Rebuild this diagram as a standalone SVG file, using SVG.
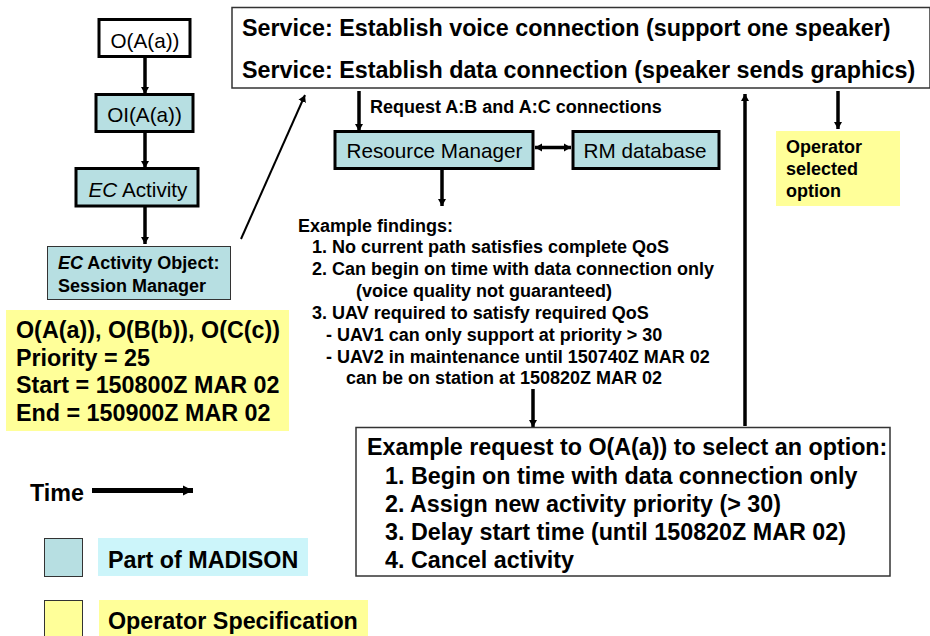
<svg xmlns="http://www.w3.org/2000/svg" width="930" height="636" viewBox="0 0 930 636">
<style>
text{font-family:"Liberation Sans",Arial,sans-serif;fill:#000}
.teal{fill:#b7dfe2}
.yel{fill:#ffff99}
.thick{stroke:#000;stroke-width:3}
.thin{stroke:#333;stroke-width:1}
.c{stroke:#000;stroke-width:3.500;fill:none}
.s{font-size:18px;font-weight:bold}
.m{font-size:23.300px;font-weight:bold}
.n{font-size:20.700px}
</style>
<defs>
<marker id="a" markerUnits="userSpaceOnUse" markerWidth="8" markerHeight="10" refX="7" refY="5" orient="auto-start-reverse"><path d="M0 1L7 5L0 9z" fill="#000"/></marker>
<marker id="t" markerUnits="userSpaceOnUse" markerWidth="11" markerHeight="12" refX="10" refY="6" orient="auto"><path d="M0 1L10 6L0 11z" fill="#000"/></marker>
</defs>
<rect width="930" height="636" fill="#fff"/>
<g id="connectors">
<path class="c" d="M145 57V94" marker-end="url(#a)"/>
<path class="c" d="M145 132V168" marker-end="url(#a)"/>
<path class="c" d="M145 207V244" marker-end="url(#a)"/>
<path d="M241 239L305 95" stroke="#000" stroke-width="2" fill="none" marker-end="url(#a)"/>
<path class="c" d="M359 91V131" marker-end="url(#a)"/>
<path class="c" d="M535 147.500H571" marker-start="url(#a)" marker-end="url(#a)"/>
<path class="c" d="M442 169V206" marker-end="url(#a)"/>
<path class="c" d="M533 389V427" marker-end="url(#a)"/>
<path class="c" d="M745 426V94" marker-end="url(#a)"/>
<path class="c" d="M838 91V129" marker-end="url(#a)"/>
<path d="M92 490.500H193" stroke="#000" stroke-width="5" fill="none" marker-end="url(#t)"/>
</g>
<g id="service">
<rect x="232" y="7.500" width="698" height="80.500" fill="#fff" stroke="#333" stroke-width="1.500"/>
<text class="m" x="242" y="36">Service: Establish voice connection (support one speaker)</text>
<text class="m" x="242" y="78">Service: Establish data connection (speaker sends graphics)</text>
</g>
<g id="oaa"><rect x="99" y="19.500" width="91" height="37" fill="#fff" class="thick"/><text class="n" x="145" y="48" text-anchor="middle">O(A(a))</text></g>
<g id="oiaa"><rect class="teal thick" x="96" y="94.500" width="97" height="37"/><text class="n" x="144.500" y="122" text-anchor="middle">OI(A(a))</text></g>
<g id="ecactivity"><rect class="teal thick" x="76" y="168.500" width="122" height="37.500"/><text class="n" x="138" y="197" text-anchor="middle"><tspan font-style="italic">EC</tspan> Activity</text></g>
<g id="ecobject"><rect class="teal thin" x="47.500" y="246.500" width="183" height="53"/><text class="s" x="58" y="269"><tspan font-style="italic">EC</tspan> Activity Object:</text><text class="s" x="58" y="292">Session Manager</text></g>
<g id="opspec"><rect class="yel" x="6" y="310" width="283" height="121"/>
<text class="m" x="16" y="338">O(A(a)), O(B(b)), O(C(c))</text>
<text class="m" x="16" y="366">Priority = 25</text>
<text class="m" x="16" y="393">Start = 150800Z MAR 02</text>
<text class="m" x="16" y="421">End = 150900Z MAR 02</text></g>
<g id="request"><text class="s" x="370" y="113">Request A:B and A:C connections</text></g>
<g id="rm"><rect class="teal thick" x="335" y="131.500" width="198" height="37"/><text class="n" x="434.500" y="158" text-anchor="middle">Resource Manager</text></g>
<g id="rmdb"><rect class="teal thick" x="573" y="131.500" width="146" height="37"/><text class="n" x="645" y="158" text-anchor="middle">RM database</text></g>
<g id="option"><rect class="yel" x="776" y="131" width="124" height="75"/>
<text class="s" x="786" y="153">Operator</text><text class="s" x="786" y="175">selected</text><text class="s" x="786" y="197">option</text></g>
<g id="findings">
<text class="s" x="298" y="232">Example findings:</text>
<text class="s" x="312" y="253">1. No current path satisfies complete QoS</text>
<text class="s" x="312" y="275">2. Can begin on time with data connection only</text>
<text class="s" x="356" y="297">(voice quality not guaranteed)</text>
<text class="s" x="312" y="319">3. UAV required to satisfy required QoS</text>
<text class="s" x="326" y="341">- UAV1 can only support at priority &gt; 30</text>
<text class="s" x="326" y="363">- UAV2 in maintenance until 150740Z MAR 02</text>
<text class="s" x="346" y="384">can be on station at 150820Z MAR 02</text>
</g>
<g id="example">
<rect x="356" y="427.500" width="534" height="148.500" fill="#fff" stroke="#333" stroke-width="1.500"/>
<text class="m" x="367" y="455">Example request to O(A(a)) to select an option:</text>
<text class="m" x="385" y="483.500">1. Begin on time with data connection only</text>
<text class="m" x="385" y="511.500">2. Assign new activity priority (&gt; 30)</text>
<text class="m" x="385" y="539.500">3. Delay start time (until 150820Z MAR 02)</text>
<text class="m" x="385" y="567.500">4. Cancel activity</text>
</g>
<g id="time"><text class="m" x="30" y="501">Time</text></g>
<g id="legend-madison"><rect class="teal thin" x="44.500" y="538.500" width="38" height="38"/><rect x="98" y="538" width="210" height="38" fill="#ccf5fa"/><text class="m" x="108" y="567.500">Part of MADISON</text></g>
<g id="legend-operator"><rect class="yel thin" x="44.500" y="600.500" width="38" height="38"/><rect class="yel" x="99" y="600" width="269" height="36"/><text class="m" x="108" y="628.500">Operator Specification</text></g>
</svg>
